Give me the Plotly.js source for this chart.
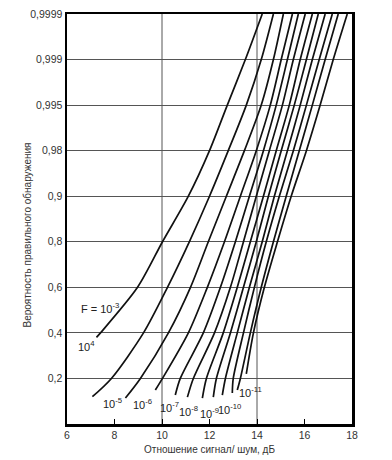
<!DOCTYPE html>
<html>
<head>
<meta charset="utf-8">
<script src="https://cdn.plot.ly/plotly-3.0.1.min.js"></script>
<style>html,body{margin:0;padding:0;background:#fff;}#chart{width:392px;height:460px;}</style>
</head>
<body>
<div id="chart"></div>
<script>
// ---- axis ticks ----
const xTickVals = [6, 8, 10, 12, 14, 16, 18];
const xGridVals = [10, 14];
const yTickProb = [0.2, 0.4, 0.6, 0.8, 0.9, 0.98, 0.995, 0.999, 0.9999];
const yTickText = ['0,2', '0,4', '0,6', '0,8', '0,9', '0,98', '0,995', '0,999', '0,9999'];

// ---- curves: probability of detection (p) vs SNR in dB ----
const pA = [0.38, 0.4, 0.6, 0.8, 0.9, 0.98, 0.995, 0.999, 0.9999];
const snrA = [7.24, 7.41, 8.97, 10.02, 11.11, 12.00, 12.75, 13.51, 14.22];
const pB = [0.12, 0.2, 0.4, 0.6, 0.8, 0.9, 0.98, 0.995, 0.999, 0.9999];
const snrB = [7.07, 7.87, 9.22, 10.23, 11.15, 12.00, 12.79, 13.55, 14.18, 14.69];
const pC = [0.114, 0.2, 0.4, 0.6, 0.8, 0.9, 0.98, 0.995, 0.999, 0.9999];
const snrC = [8.46, 9.09, 10.27, 11.20, 11.95, 12.71, 13.47, 14.18, 14.69, 15.11];
const pD = [0.149, 0.2, 0.4, 0.6, 0.8, 0.9, 0.98, 0.995, 0.999, 0.9999];
const snrD = [9.72, 10.02, 11.11, 11.91, 12.63, 13.30, 13.97, 14.56, 15.02, 15.49];
const pE = [0.127, 0.2, 0.4, 0.6, 0.8, 0.9, 0.98, 0.995, 0.999, 0.9999];
const snrE = [10.56, 10.77, 11.74, 12.46, 13.09, 13.68, 14.27, 14.81, 15.28, 15.74];
const pF = [0.118, 0.2, 0.4, 0.6, 0.8, 0.9, 0.98, 0.995, 0.999, 0.9999];
const snrF = [11.07, 11.32, 12.21, 12.88, 13.43, 13.97, 14.52, 15.07, 15.53, 16.03];
const pG = [0.114, 0.2, 0.4, 0.6, 0.8, 0.9, 0.98, 0.995, 0.999, 0.9999];
const snrG = [11.70, 11.87, 12.58, 13.17, 13.72, 14.27, 14.81, 15.36, 15.82, 16.33];
const pH = [0.118, 0.2, 0.4, 0.6, 0.8, 0.9, 0.98, 0.995, 0.999, 0.9999];
const snrH = [12.16, 12.29, 12.88, 13.43, 13.97, 14.48, 15.02, 15.57, 16.08, 16.58];
const pI = [0.127, 0.2, 0.4, 0.6, 0.8, 0.9, 0.98, 0.995, 0.999, 0.9999];
const snrI = [12.54, 12.67, 13.17, 13.68, 14.22, 14.73, 15.28, 15.82, 16.33, 16.87];
const pJ = [0.136, 0.2, 0.4, 0.6, 0.8, 0.9, 0.98, 0.995, 0.999, 0.9999];
const snrJ = [12.96, 13.00, 13.43, 13.89, 14.39, 14.94, 15.53, 16.08, 16.62, 17.17];
const pK = [0.149, 0.2, 0.4, 0.6, 0.8, 0.9, 0.98, 0.995, 0.999, 0.9999];
const snrK = [13.17, 13.30, 13.72, 14.18, 14.69, 15.23, 15.78, 16.33, 16.87, 17.42];
const pL = [0.22, 0.4, 0.6, 0.8, 0.9, 0.98, 0.995, 0.999, 0.9999];
const snrL = [13.55, 13.85, 14.31, 14.86, 15.44, 16.08, 16.66, 17.21, 17.80];

// ---- curve labels (false-alarm probability) ----
const labelText = ['F = 10<sup>-3</sup>', '10<sup>4</sup>', '10<sup>-5</sup>', '10<sup>-6</sup>', '10<sup>-7</sup>',
                   '10<sup>-8</sup>', '10<sup>-9</sup>', '10<sup>-10</sup>', '10<sup>-11</sup>'];
const labelSnr = [7.41, 6.82, 7.91, 9.18, 10.33, 11.1, 11.99, 12.86, 13.74];
const labelP = [0.51, 0.342, 0.092, 0.088, 0.074, 0.056, 0.05, 0.066, 0.14];

// probability scale of the chart: grid levels equally spaced, bottom = 0
const knotP = [0].concat(yTickProb);
function pToPos(p) {
  for (let i = 1; i < knotP.length; i++) {
    if (p <= knotP[i]) {
      return (i - 1) + (p - knotP[i - 1]) / (knotP[i] - knotP[i - 1]);
    }
  }
  return knotP.length - 1;
}

const curves = [[snrA, pA], [snrB, pB], [snrC, pC], [snrD, pD], [snrE, pE], [snrF, pF],
                [snrG, pG], [snrH, pH], [snrI, pI], [snrJ, pJ], [snrK, pK], [snrL, pL]];

const traces = curves.map(c => ({
  type: 'scatter', mode: 'lines',
  x: c[0], y: c[1].map(pToPos),
  line: {color: '#111', width: 1.7, shape: 'spline', smoothing: 0.8},
  hoverinfo: 'skip', showlegend: false
}));

const font = 'Liberation Sans, Arial, sans-serif';

const annotations = labelText.map((t, i) => ({
  x: labelSnr[i], y: pToPos(labelP[i]), xref: 'x', yref: 'y',
  text: t, showarrow: false, xanchor: 'center', yanchor: 'middle',
  font: {family: font, size: 11, color: '#222'}
}));
annotations.push({
  xref: 'paper', yref: 'paper', x: -0.137, y: 0.462,
  text: 'Вероятность правильного обнаружения', textangle: -90,
  showarrow: false, xanchor: 'center', yanchor: 'middle',
  font: {family: font, size: 10, color: '#333'}
});

const shapes = xGridVals.map(v => ({
  type: 'line', xref: 'x', yref: 'paper', x0: v, x1: v, y0: 0, y1: 1,
  line: {color: '#555', width: 1}, layer: 'below'
}));

const layout = {
  width: 392, height: 460,
  margin: {l: 67, r: 40, t: 14, b: 36},
  paper_bgcolor: '#fff', plot_bgcolor: '#fff',
  font: {family: font, color: '#333'},
  showlegend: false,
  xaxis: {
    range: [6, 18], tickvals: xTickVals, ticktext: xTickVals.map(String),
    ticks: 'inside', ticklen: 5, tickwidth: 1, tickcolor: '#000',
    showgrid: false, zeroline: false,
    showline: true, linecolor: '#000', linewidth: 2.5, mirror: true,
    tickfont: {family: font, size: 10.5, color: '#333'},
    title: {text: 'Отношение сигнал/ шум, дБ', font: {family: font, size: 10, color: '#333'}, standoff: 6}
  },
  yaxis: {
    range: [0, 9], tickvals: yTickProb.map(pToPos), ticktext: yTickText,
    ticks: '', showgrid: true, gridcolor: '#555', gridwidth: 1, zeroline: false,
    showline: true, linecolor: '#000', linewidth: 2.5, mirror: true,
    tickfont: {family: font, size: 10.5, color: '#333'}
  },
  shapes: shapes,
  annotations: annotations
};

Plotly.newPlot('chart', traces, layout, {staticPlot: true, displayModeBar: false});
</script>
</body>
</html>
